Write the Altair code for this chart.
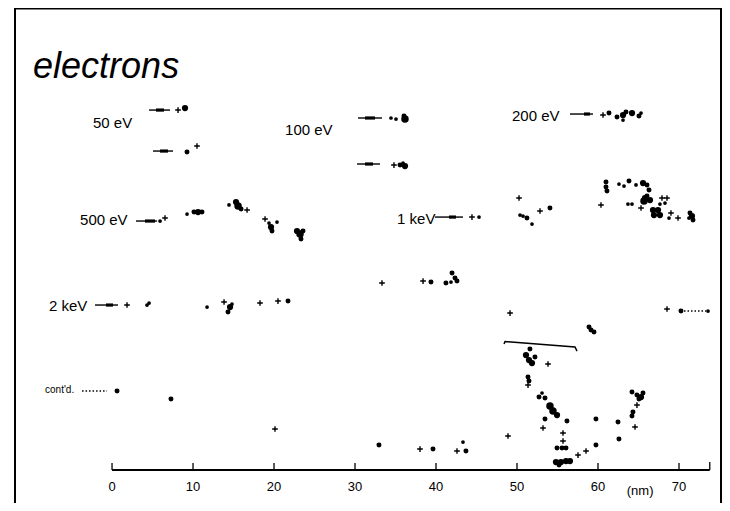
import altair as alt
import pandas as pd

# ---------------- data (positions in nm; y = height above the scale bar) ----------------
title_text = "electrons"

track_labels = ["50 eV", "100 eV", "200 eV", "500 eV", "1 keV", "2 keV"]
label_x = [-2.35, 21.36, 49.38, -3.95, 35.19, -7.78]
label_y = [42.84, 41.98, 43.70, 30.86, 30.99, 20.25]

contd_text = "cont'd."
contd_pos = (-8.27, 9.88)

# incoming-electron arrows: shaft start/end, head start/end, height
arrow_x1 = [4.57, 5.06, 30.37, 30.25, 56.54, 2.96, 39.88, -2.10]
arrow_x2 = [7.16, 7.53, 33.33, 33.09, 59.38, 5.56, 43.33, 0.74]
head_x1 = [5.43, 5.93, 31.23, 31.23, 58.27, 4.07, 41.60, -0.74]
head_x2 = [6.42, 6.91, 32.47, 32.22, 59.01, 5.31, 42.47, 0.12]
arrow_y = [44.44, 39.38, 43.46, 37.78, 43.95, 30.74, 31.23, 20.37]

# dotted continuation lines
dotted_x1 = [-3.70, 70.62]
dotted_x2 = [-0.62, 73.33]
dotted_y = [9.75, 19.63]

# bracket over the V-shaped track
bracket_x = [48.40, 48.52, 57.16, 57.41]
bracket_y = [15.56, 15.86, 15.19, 14.69]

# ionisation clusters (x, y, blob size class)
dots_50eV = [(9.01, 44.69, 5), (9.26, 39.26, 4)]
dots_100eV = [(34.44, 43.46, 3), (35.06, 43.33, 3), (36.17, 43.33, 6), (36.05, 43.70, 4),
              (35.56, 37.65, 4), (36.17, 37.53, 5), (35.93, 37.90, 3)]
dots_200eV = [(61.36, 44.07, 4), (62.35, 43.58, 4), (63.09, 43.83, 5), (63.46, 44.20, 4),
              (63.09, 43.21, 3), (64.20, 44.07, 5), (65.06, 43.70, 4), (65.31, 44.07, 3)]
dots_500eV = [(5.93, 30.74, 3), (9.26, 31.60, 3), (10.12, 31.85, 4), (10.62, 31.85, 5),
              (11.11, 31.85, 4), (14.44, 32.72, 3), (15.31, 33.09, 5), (15.56, 32.59, 6),
              (15.93, 32.22, 4), (19.38, 30.49, 3), (19.63, 30.00, 5), (19.75, 29.51, 4),
              (20.37, 30.62, 3), (22.84, 29.51, 5), (23.21, 29.14, 6), (23.58, 29.51, 4),
              (23.33, 28.52, 4)]
dots_1keV = [(45.31, 31.23, 3), (50.37, 31.48, 3), (50.74, 31.36, 3), (51.23, 31.11, 4),
             (51.85, 30.37, 3), (54.07, 32.35, 4), (60.99, 35.56, 4), (60.99, 34.94, 4),
             (61.11, 34.44, 4), (62.59, 35.31, 3), (63.21, 35.06, 3), (63.83, 35.68, 4),
             (64.69, 35.19, 3), (65.56, 35.43, 5), (66.05, 35.19, 4), (66.30, 34.57, 4),
             (63.70, 32.84, 3), (64.20, 32.84, 3), (65.80, 33.58, 5), (65.68, 33.21, 6),
             (66.42, 33.33, 5), (66.05, 33.83, 4), (66.79, 32.10, 5), (67.41, 32.10, 5),
             (66.91, 31.48, 5), (67.65, 31.48, 5), (67.65, 32.84, 3), (68.27, 32.96, 3),
             (68.77, 31.11, 3), (71.36, 31.73, 4), (71.60, 31.36, 5), (71.73, 30.86, 4),
             (71.23, 31.11, 3)]
dots_2keV = [(4.32, 20.37, 3), (4.57, 20.62, 3), (11.73, 20.12, 3), (14.57, 20.12, 5),
             (14.32, 19.51, 4), (14.81, 20.49, 3), (21.73, 20.86, 4), (39.38, 23.21, 4),
             (41.23, 23.09, 4), (41.98, 24.32, 4), (42.35, 23.70, 4), (42.59, 23.33, 4),
             (41.85, 23.21, 3), (58.89, 17.65, 4), (59.14, 17.28, 4), (59.51, 17.04, 4),
             (70.25, 19.63, 4), (73.58, 19.63, 3)]
dots_contd = [(0.62, 9.75, 4), (7.28, 8.77, 4), (32.96, 3.09, 4), (39.63, 2.59, 4),
              (43.33, 3.46, 3), (43.70, 2.35, 4), (51.60, 14.94, 4), (51.11, 14.20, 5),
              (51.48, 13.58, 5), (51.85, 13.21, 5), (52.22, 13.95, 4), (51.36, 11.48, 4),
              (51.48, 10.99, 4), (52.72, 9.01, 4), (53.09, 9.51, 3), (53.46, 8.89, 4),
              (54.07, 7.90, 6), (54.44, 7.28, 6), (54.94, 6.79, 5), (53.46, 6.30, 4),
              (56.17, 6.05, 4), (59.75, 6.30, 4), (62.47, 5.93, 4), (54.94, 2.72, 4),
              (55.56, 2.72, 4), (56.05, 2.72, 4), (59.75, 3.09, 4), (62.59, 3.83, 4),
              (54.81, 0.99, 5), (55.43, 0.99, 5), (56.05, 1.11, 5), (56.54, 1.11, 5),
              (55.19, 0.62, 4), (64.20, 9.63, 4), (64.81, 9.26, 4), (65.31, 9.01, 5),
              (65.56, 9.51, 4), (65.06, 8.77, 4), (64.32, 7.16, 4), (64.20, 6.67, 4)]

# excitations (crosses)
crosses = [(8.15, 44.44), (10.49, 40.00), (34.81, 37.65), (60.62, 43.83), (6.54, 31.11),
           (16.67, 32.10), (18.89, 30.99), (44.44, 31.23), (50.25, 33.58), (52.84, 31.98),
           (60.37, 32.72), (65.31, 32.35), (67.90, 33.58), (68.52, 33.58), (69.01, 31.73),
           (69.88, 31.11), (1.85, 20.37), (13.83, 20.74), (18.27, 20.62), (20.49, 20.86),
           (33.33, 23.09), (38.40, 23.33), (49.14, 19.38), (68.52, 19.88), (20.12, 5.06),
           (38.02, 2.59), (42.59, 2.35), (48.89, 4.20), (53.83, 13.09), (51.36, 10.49),
           (53.21, 5.19), (55.68, 4.57), (55.68, 3.58), (58.52, 2.35), (57.53, 1.85),
           (64.81, 8.02), (64.57, 5.31)]

# scale bar
tick_values = [0, 10, 20, 30, 40, 50, 60, 70]
tick_labels = ["0", "10", "20", "30", "40", "50", "60", "70"]
scale_end = 73.8
unit_text = "(nm)"

# ---------------- chart ----------------
FONT = "Liberation Sans"
W, H = 707, 495
xs = alt.Scale(domain=[-11.98, 75.31], nice=False, zero=False)
ys = alt.Scale(domain=[-4.07, 57.04], nice=False, zero=False)


def X(f):
    return alt.X(f, type="quantitative", scale=xs, axis=None)


def Y(f):
    return alt.Y(f, type="quantitative", scale=ys, axis=None)


all_dots = dots_50eV + dots_100eV + dots_200eV + dots_500eV + dots_1keV + dots_2keV + dots_contd
dots_df = pd.DataFrame(all_dots, columns=["x", "y", "w"])
cross_df = pd.DataFrame(crosses, columns=["x", "y"])
arrows_df = pd.DataFrame({"x1": arrow_x1, "x2": arrow_x2, "h1": head_x1, "h2": head_x2, "y": arrow_y})
dotted_df = pd.DataFrame({"x1": dotted_x1, "x2": dotted_x2, "y": dotted_y})
bracket_df = pd.DataFrame({"x": bracket_x, "y": bracket_y, "i": list(range(len(bracket_x)))})
labels_df = pd.DataFrame({"x": label_x, "y": label_y, "t": track_labels})
ticks_df = pd.DataFrame({"x": tick_values + [scale_end], "y": [0.0] * 9,
                         "y2": [0.86] * 8 + [1.0]})
ticklab_df = pd.DataFrame({"x": tick_values, "y": [-2.1] * 8, "t": tick_labels})
axis_df = pd.DataFrame({"x1": [0.0], "x2": [scale_end], "y": [0.0]})

frame_src = alt.Chart(pd.DataFrame({"k": [0]}))
frame_left = frame_src.mark_rule(color="black", strokeWidth=2).encode(
    x=alt.value(0), y=alt.value(0), y2=alt.value(H))
frame_top = frame_src.mark_rule(color="black", strokeWidth=2).encode(
    x=alt.value(0), x2=alt.value(W - 1), y=alt.value(0.5))
frame_right = frame_src.mark_rule(color="black", strokeWidth=2).encode(
    x=alt.value(W - 1), y=alt.value(0), y2=alt.value(H))

dots = alt.Chart(dots_df).mark_circle(color="black", opacity=1).encode(
    x=X("x"), y=Y("y"),
    size=alt.Size("w:Q", scale=alt.Scale(type="pow", exponent=2, domain=[0, 6], range=[0, 56]), legend=None),
)
cross_layer = alt.Chart(cross_df).mark_point(
    shape="M-1,0L1,0M0,-1L0,1", filled=False, color="black", size=32, strokeWidth=1.4, opacity=1
).encode(x=X("x"), y=Y("y"))
shafts = alt.Chart(arrows_df).mark_rule(color="black", strokeWidth=1.4).encode(
    x=X("x1"), x2="x2", y=Y("y"))
heads = alt.Chart(arrows_df).mark_rule(color="black", strokeWidth=3.2).encode(
    x=X("h1"), x2="h2", y=Y("y"))
dotted = alt.Chart(dotted_df).mark_rule(color="black", strokeWidth=1.4, strokeDash=[1.5, 2]).encode(
    x=X("x1"), x2="x2", y=Y("y"))
bracket = alt.Chart(bracket_df).mark_line(color="black", strokeWidth=1.5).encode(
    x=X("x"), y=Y("y"), order="i:Q")
labels = alt.Chart(labels_df).mark_text(
    align="left", baseline="middle", font=FONT, fontSize=15, color="black"
).encode(x=X("x"), y=Y("y"), text="t:N")
contd = alt.Chart(pd.DataFrame({"x": [contd_pos[0]], "y": [contd_pos[1]], "t": [contd_text]})).mark_text(
    align="left", baseline="middle", font=FONT, fontSize=10, color="black"
).encode(x=X("x"), y=Y("y"), text="t:N")
title = alt.Chart(pd.DataFrame({"x": [-9.75], "y": [48.4], "t": [title_text]})).mark_text(
    align="left", baseline="alphabetic", font=FONT, fontSize=36, fontStyle="italic", color="black"
).encode(x=X("x"), y=Y("y"), text="t:N")
axis_line = alt.Chart(axis_df).mark_rule(color="black", strokeWidth=2).encode(
    x=X("x1"), x2="x2", y=Y("y"))
ticks = alt.Chart(ticks_df).mark_rule(color="black", strokeWidth=1.3).encode(
    x=X("x"), y=Y("y"), y2="y2")
ticklabs = alt.Chart(ticklab_df).mark_text(
    align="center", baseline="middle", font=FONT, fontSize=13, color="black"
).encode(x=X("x"), y=Y("y"), text="t:N")
unit = alt.Chart(pd.DataFrame({"x": [65.2], "y": [-2.6], "t": [unit_text]})).mark_text(
    align="center", baseline="middle", font=FONT, fontSize=13, color="black"
).encode(x=X("x"), y=Y("y"), text="t:N")

chart = alt.layer(
    frame_left, frame_top, frame_right,
    axis_line, ticks, ticklabs, unit, shafts, heads, dotted, bracket,
    dots, cross_layer, labels, contd, title
).properties(
    width=W, height=H,
    padding={"left": 7, "top": 0, "right": 0, "bottom": 0},
    autosize=alt.AutoSizeParams(type="none"),
    background="white",
).configure_view(stroke=None)

chart.save("out.html", embed_options={"renderer": "svg", "actions": False})
